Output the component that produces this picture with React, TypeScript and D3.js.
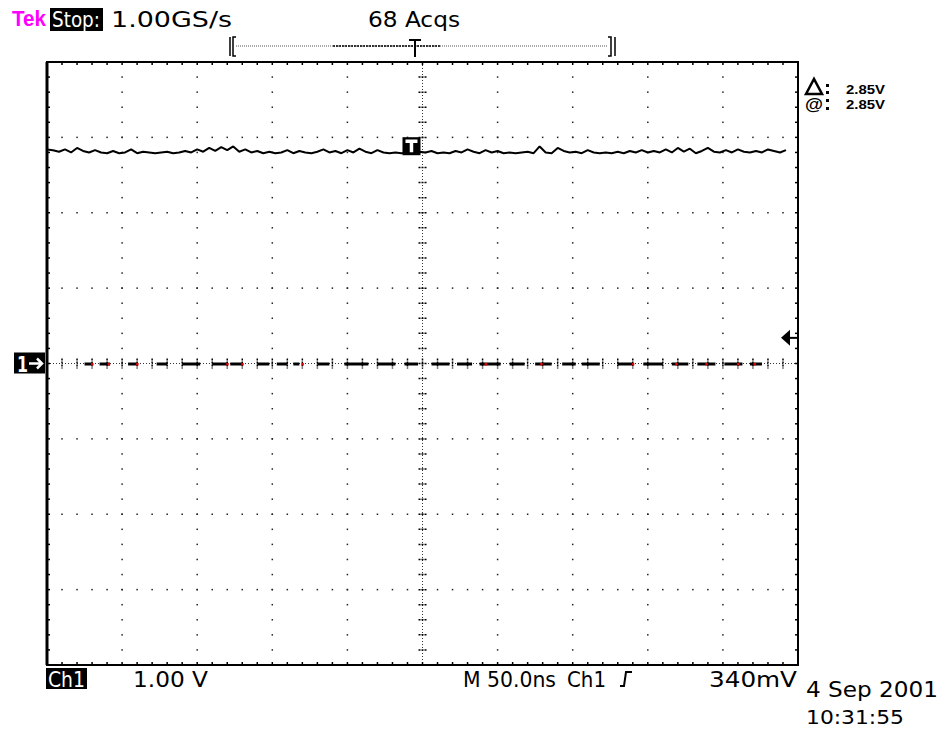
import React from "react";
import * as d3 from "d3";

// scope settings: 50 ns/div horizontally, 1 V/div vertically, ground at centre
const timeDomain = [-250, 250];
const voltDomain = [-4, 4];
const triggerNs = -8;
const triggerLevelV = 0.34;

// channel 1 trace, one sample every 4 ns starting at -250 ns
const traceStartNs = -250;
const traceStepNs = 4;
const traceVolts = [
  2.84, 2.83, 2.81, 2.84, 2.8, 2.86, 2.82, 2.8, 2.83, 2.8,
  2.79, 2.82, 2.79, 2.8, 2.84, 2.79, 2.81, 2.8, 2.79, 2.8,
  2.81, 2.79, 2.8, 2.82, 2.8, 2.84, 2.81, 2.86, 2.82, 2.87,
  2.83, 2.88, 2.81, 2.84, 2.8, 2.82, 2.79, 2.81, 2.79, 2.8,
  2.83, 2.79, 2.82, 2.8, 2.79, 2.81, 2.84, 2.8, 2.82, 2.79,
  2.83, 2.8, 2.85, 2.81, 2.79, 2.83, 2.8, 2.79, 2.8, 2.79,
  2.8, 2.79, 2.81, 2.8, 2.82, 2.79, 2.8, 2.79, 2.82, 2.8,
  2.84, 2.81, 2.79, 2.83, 2.8, 2.82, 2.79, 2.8, 2.79, 2.8,
  2.81, 2.79, 2.88, 2.8, 2.79, 2.86, 2.82, 2.8, 2.81, 2.79,
  2.83, 2.8, 2.79, 2.8, 2.79, 2.81, 2.79, 2.82, 2.8, 2.83,
  2.8, 2.82, 2.8, 2.84, 2.8, 2.86, 2.81, 2.85, 2.79, 2.82,
  2.86, 2.81, 2.8, 2.83, 2.8, 2.84, 2.81, 2.8, 2.82, 2.8,
  2.84, 2.82, 2.8, 2.83,
];

// reference waveform on the ground line: dashes [from, to] in ns
const refSegmentsNs = [
  [-225, -220], [-215, -208], [-196, -190], [-177, -170], [-160, -148],
  [-140, -130], [-128, -120], [-110, -102], [-97, -90], [-86, -82],
  [-70, -62], [-52, -36], [-30, -18], [-12, -3], [6, 18],
  [23, 33], [38, 52], [58, 68], [75, 86], [93, 102],
  [106, 118], [130, 140], [147, 160], [166, 177], [183, 195],
  [201, 213], [218, 226],
];
const refRedDotsNs = [-220, -209, -190, -130, -120, -80, 42, 79, 140, 169, 189, 210, 221];

const readoutTop = { brand: "Tek", state: "Stop:", rate: "1.00GS/s", acqs: "68 Acqs" };
const readoutMeas = [
  { sym: "\u0394", value: "2.85V" },
  { sym: "@", value: "2.85V" },
];
const readoutBottom = {
  ch: "Ch1",
  scale: "1.00 V",
  time: "M 50.0ns",
  trigSrc: "Ch1",
  trigLevel: "340mV",
  date: "4 Sep 2001",
  clock: "10:31:55",
};

const COND = "'DejaVu Sans Condensed', 'Liberation Sans Narrow', 'DejaVu Sans', sans-serif";

const Txt = ({ x, y, w, size = 21, fill = "#000", weight = "normal", family = COND, children }) => (
  <text
    x={x}
    y={y}
    fontSize={size}
    fill={fill}
    fontWeight={weight}
    fontFamily={family}
    textLength={w}
    lengthAdjust="spacingAndGlyphs"
  >
    {children}
  </text>
);

export default function App() {
  const left = 47, right = 798, top = 62, bottom = 665;
  const x = d3.scaleLinear().domain(timeDomain).range([left, right]);
  const y = d3.scaleLinear().domain(voltDomain).range([bottom, top]);

  const majorT = d3.range(-250, 251, 50);
  const majorV = d3.range(-4, 5, 1);
  const minorT = d3.range(-250, 250.01, 10);
  const minorV = d3.range(-4, 4.01, 0.2);

  const line = d3
    .line<number>()
    .x((d, i) => x(traceStartNs + i * traceStepNs))
    .y((d) => y(d))
    .curve(d3.curveLinear);

  const gx = x(0);
  const gy = y(0);
  const tx = x(triggerNs);
  const ty = y(traceVolts[Math.round((triggerNs - traceStartNs) / traceStepNs)]);
  const ly = y(triggerLevelV);

  return (
    <div style={{ position: "absolute", left: 0, top: 0 }}>
      <svg width={943} height={729} style={{ display: "block", background: "#fff" }}>
        {/* header */}
        <Txt x={12} y={26} w={34} size={22} fill="#ff00ff" weight="bold" family="'Liberation Sans', Arial, sans-serif">
          {readoutTop.brand}
        </Txt>
        <rect x={50} y={8} width={53} height={23} fill="#000" />
        <Txt x={52} y={27} w={48} fill="#fff">{readoutTop.state}</Txt>
        <Txt x={111} y={27} w={121}>{readoutTop.rate}</Txt>
        <Txt x={368} y={27} w={92}>{readoutTop.acqs}</Txt>

        {/* record position bar */}
        <line x1={236} x2={608} y1={46} y2={46} stroke="#555" strokeDasharray="1,1" />
        <line x1={333} x2={440} y1={46} y2={46} stroke="#000" strokeWidth={1.5} strokeDasharray="2,1" />
        <path d="M230,37 V56 M236,37 H233 V56 H236" stroke="#000" strokeWidth={1.5} fill="none" />
        <path d="M615,37 V56 M608,37 H611 V56 H608" stroke="#000" strokeWidth={1.5} fill="none" />
        <path d="M409,40 H421 M415,40 V57" stroke="#000" strokeWidth={2} fill="none" />

        {/* graticule dots on major lines */}
        {majorT.slice(1, -1).filter((t) => t !== 0).map((t) =>
          minorV.map((v) => (
            <rect key={`v${t}_${v}`} x={x(t) - 0.75} y={y(v) - 0.75} width={1.5} height={1.5} fill="#222" />
          ))
        )}
        {majorV.slice(1, -1).filter((v) => v !== 0).map((v) =>
          minorT.map((t) => (
            <rect key={`h${v}_${t}`} x={x(t) - 0.75} y={y(v) - 0.75} width={1.5} height={1.5} fill="#222" />
          ))
        )}

        {/* centre axes */}
        <line x1={gx} x2={gx} y1={top} y2={bottom} stroke="#333" strokeDasharray="1,2" />
        <line x1={left} x2={right} y1={gy} y2={gy} stroke="#333" strokeDasharray="1,2" />
        {minorV.map((v) => (
          <line key={`cv${v}`} x1={gx - 4} x2={gx + 4} y1={y(v)} y2={y(v)} stroke="#000" strokeWidth={1.5} strokeDasharray="2,1" />
        ))}
        {minorT.map((t) => (
          <line key={`ch${t}`} x1={x(t)} x2={x(t)} y1={gy - 5} y2={gy + 5} stroke="#000" strokeWidth={1.5} strokeDasharray="2,1" />
        ))}

        {/* frame ticks */}
        {minorT.map((t) => (
          <g key={`ft${t}`}>
            <line x1={x(t)} x2={x(t)} y1={top} y2={top + 3} stroke="#000" strokeWidth={1.5} />
            <line x1={x(t)} x2={x(t)} y1={bottom - 3} y2={bottom} stroke="#000" strokeWidth={1.5} />
          </g>
        ))}
        {minorV.map((v) => (
          <g key={`fv${v}`}>
            <line x1={left} x2={left + 3} y1={y(v)} y2={y(v)} stroke="#000" strokeWidth={1.5} />
            <line x1={right - 3} x2={right} y1={y(v)} y2={y(v)} stroke="#000" strokeWidth={1.5} />
          </g>
        ))}
        <rect x={left} y={top} width={right - left} height={bottom - top} fill="none" stroke="#000" strokeWidth={2} />
        <line x1={left} x2={left} y1={top} y2={bottom} stroke="#000" strokeWidth={3} />

        {/* reference dashes on ground line */}
        {refSegmentsNs.map(([a, b], i) => (
          <line key={`rs${i}`} x1={x(a)} x2={x(b)} y1={gy + 0.5} y2={gy + 0.5} stroke="#000" strokeWidth={3} />
        ))}
        {refRedDotsNs.map((t, i) => (
          <rect key={`rd${i}`} x={x(t) - 1} y={gy - 0.5} width={2.5} height={2.5} fill="#e00000" />
        ))}

        {/* channel 1 trace */}
        <path d={line(traceVolts) || ""} fill="none" stroke="#000" strokeWidth={2} strokeLinejoin="bevel" />

        {/* trigger marker on trace */}
        <rect x={tx - 8} y={ty - 16} width={18} height={18} fill="#000" />
        <path d={`M${tx - 5},${ty - 12} H${tx + 7} M${tx + 1},${ty - 12} V${ty - 1}`} stroke="#fff" strokeWidth={3.5} />

        {/* trigger level marker */}
        <path d={`M${right - 17},${ly} L${right - 8},${ly - 8} L${right - 8},${ly + 8} Z`} fill="#000" />
        <line x1={right - 9} x2={right} y1={ly} y2={ly} stroke="#000" strokeWidth={2} />

        {/* channel ground marker */}
        <rect x={14} y={gy - 11} width={31} height={21} fill="#000" />
        <Txt x={17} y={gy + 8} w={11} size={22} fill="#fff" weight="bold">1</Txt>
        <path d={`M29,${gy} H42 M37,${gy - 5} L42,${gy} L37,${gy + 5}`} stroke="#fff" strokeWidth={2.5} fill="none" />

        {/* measurement readouts */}
        {readoutMeas.map((m, i) => (
          <g key={`m${i}`}>
            {i === 0 ? (
              <path d={`M806,${94} L814,${79} L822,${94} Z`} fill="none" stroke="#000" strokeWidth={2.5} strokeLinejoin="miter" />
            ) : (
              <Txt x={805} y={110} w={18} size={17} weight="bold" family="'Liberation Sans', Arial, sans-serif">{m.sym}</Txt>
            )}
            <rect x={826} y={(i === 0 ? 84 : 99)} width={3} height={3} fill="#000" />
            <rect x={826} y={(i === 0 ? 91 : 107)} width={3} height={3} fill="#000" />
            <Txt x={846} y={i === 0 ? 94 : 109} w={39} size={13} weight="bold" family="'Liberation Sans', Arial, sans-serif">
              {m.value}
            </Txt>
          </g>
        ))}

        {/* bottom readouts */}
        <rect x={46} y={668} width={41} height={21} fill="#000" />
        <Txt x={48} y={687} w={37} fill="#fff">{readoutBottom.ch}</Txt>
        <Txt x={133} y={687} w={75}>{readoutBottom.scale}</Txt>
        <Txt x={463} y={687} w={93}>{readoutBottom.time}</Txt>
        <Txt x={567} y={687} w={39}>{readoutBottom.trigSrc}</Txt>
        <path d="M620,686 H624 L626,672 H632" stroke="#000" strokeWidth={2} fill="none" />
        <Txt x={709} y={687} w={88}>{readoutBottom.trigLevel}</Txt>
        <Txt x={806} y={697} w={132}>{readoutBottom.date}</Txt>
        <Txt x={806} y={724} w={98} size={20}>{readoutBottom.clock}</Txt>
      </svg>
    </div>
  );
}
